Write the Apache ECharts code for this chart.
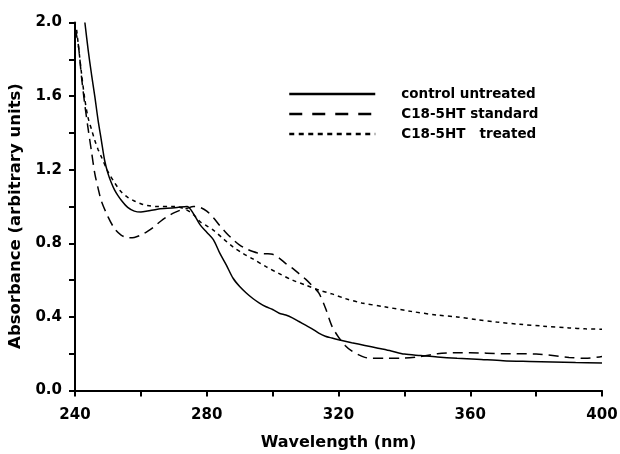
<!DOCTYPE html>
<html><head><meta charset="utf-8">
<script src="https://cdn.jsdelivr.net/npm/echarts@6/dist/echarts.min.js"></script>
<style>html,body{margin:0;padding:0;background:#fff}#c{width:620px;height:454px}</style>
</head><body><div id="c"></div>
<script>
var seriesNames = ['control untreated', 'C18-5HT standard', 'C18-5HT   treated'];
var xTicks = [240, 280, 320, 360, 400];
var yTicks = [0.0, 0.4, 0.8, 1.2, 1.6, 2.0];

var controlX = [243,244,245,246,247,248,249,250,251,252,253,254,256,258,260,262,265,268,271,274,276,278,280,282,284,286,288,290,292,294,296,298,300,302,304,306,308,310,312,314,316,318,320,324,328,332,336,340,345,350,356,362,370,378,385,392,400];
var controlY = [2.0,1.85,1.72,1.6,1.47,1.36,1.25,1.18,1.13,1.09,1.06,1.035,0.995,0.975,0.97,0.975,0.985,0.99,0.995,1.0,0.96,0.9,0.86,0.82,0.745,0.68,0.61,0.565,0.53,0.5,0.475,0.455,0.44,0.42,0.41,0.395,0.375,0.355,0.335,0.312,0.295,0.285,0.276,0.26,0.245,0.23,0.215,0.198,0.19,0.182,0.175,0.17,0.162,0.158,0.155,0.152,0.15];

var standardX = [240,241,242,243,244,245,246,247,248,250,252,254,256,258,260,262,264,266,268,270,272,274,276,278,280,282,284,286,288,290,292,294,296,298,300,302,304,306,308,310,312,314,316,318,320,322,324,326,328,330,335,340,345,350,355,360,370,380,390,395,400];
var standardY = [1.97,1.88,1.7,1.55,1.42,1.3,1.18,1.1,1.03,0.945,0.88,0.845,0.83,0.832,0.845,0.865,0.89,0.92,0.945,0.965,0.98,0.99,1.0,0.995,0.975,0.94,0.895,0.855,0.82,0.79,0.77,0.755,0.745,0.743,0.74,0.72,0.69,0.665,0.635,0.605,0.57,0.53,0.45,0.35,0.29,0.245,0.215,0.195,0.18,0.175,0.175,0.176,0.185,0.2,0.205,0.205,0.2,0.198,0.18,0.175,0.185];

var treatedX = [240.5,241,242,243,244,245,246,247,248,250,252,254,256,258,260,262,265,270,272,274,276,278,280,282,285,288,291,294,298,302,306,310,314,318,322,327,334,342,350,356,362,368,375,382,390,395,400];
var treatedY = [1.96,1.88,1.72,1.58,1.48,1.42,1.36,1.31,1.27,1.19,1.13,1.08,1.05,1.03,1.015,1.005,1.0,1.0,0.995,0.98,0.955,0.917,0.895,0.872,0.825,0.78,0.745,0.715,0.673,0.635,0.6,0.573,0.546,0.525,0.5,0.476,0.455,0.43,0.41,0.4,0.385,0.372,0.36,0.35,0.34,0.335,0.333];

function pairs(xs, ys){ return xs.map(function(x,i){ return [x, ys[i]]; }); }

var font = '"DejaVu Sans", Verdana, sans-serif';
var chart = echarts.init(document.getElementById('c'), null, {renderer:'canvas'});
var axisCommon = {
  axisLine:{show:true, onZero:false, lineStyle:{color:'#000', width:2}},
  axisTick:{show:true, inside:false, length:6, lineStyle:{color:'#000', width:2}},
  minorTick:{show:true, splitNumber:2, length:6, lineStyle:{color:'#000', width:2}},
  splitLine:{show:false}
};
var dashStd = [10, 6];
var dashTrt = [4, 4];
var hideSym = {opacity:0, color:'rgba(0,0,0,0)', borderWidth:0};
chart.setOption({
  animation:false,
  backgroundColor:'#fff',
  grid:{left:75, right:18, top:22.5, bottom:63.5, containLabel:false, outerBoundsMode:'none'},
  legend:{
    orient:'vertical', left:288, top:87, padding:0, itemWidth:86, itemHeight:14, itemGap:6,
    textStyle:{color:'#000', fontWeight:'bold', fontSize:13.5, fontFamily:font, padding:[0,0,0,21]},
    data:[
      {name:seriesNames[0], itemStyle:hideSym, lineStyle:{color:'#000', width:2.5, type:'solid'}},
      {name:seriesNames[1], itemStyle:hideSym, lineStyle:{color:'#000', width:2.5, type:[13,10]}},
      {name:seriesNames[2], itemStyle:hideSym, lineStyle:{color:'#000', width:2.5, type:[5,4.5]}}
    ]
  },
  xAxis:Object.assign({}, axisCommon, {
    type:'value', min:xTicks[0], max:xTicks[xTicks.length-1], interval:40,
    name:'Wavelength (nm)', nameLocation:'middle', nameGap:44,
    nameTextStyle:{color:'#000', fontWeight:'bold', fontSize:16, fontFamily:font},
    axisLabel:{color:'#000', fontWeight:'bold', fontSize:15, fontFamily:font, margin:17}
  }),
  yAxis:Object.assign({}, axisCommon, {
    type:'value', min:yTicks[0], max:yTicks[yTicks.length-1], interval:0.4,
    name:'Absorbance (arbitrary units)', nameLocation:'middle', nameGap:51,
    nameTextStyle:{color:'#000', fontWeight:'bold', fontSize:16.5, fontFamily:font, padding:[0,19,0,0]},
    axisLabel:{color:'#000', fontWeight:'bold', fontSize:15, fontFamily:font, margin:13,
      formatter:function(v){ return v.toFixed(1); }}
  }),
  series:[
    {name:seriesNames[0], type:'line', data:pairs(controlX, controlY), showSymbol:false, symbol:'none', smooth:0.3,
      lineStyle:{color:'#000', width:1.5, type:'solid'}, itemStyle:{color:'#000'}},
    {name:seriesNames[1], type:'line', data:pairs(standardX, standardY), showSymbol:false, symbol:'none', smooth:0.3,
      lineStyle:{color:'#000', width:1.5, type:dashStd}, itemStyle:{color:'#000'}},
    {name:seriesNames[2], type:'line', data:pairs(treatedX, treatedY), showSymbol:false, symbol:'none', smooth:0.3,
      lineStyle:{color:'#000', width:1.5, type:dashTrt}, itemStyle:{color:'#000'}}
  ]
});
</script>
</body></html>
